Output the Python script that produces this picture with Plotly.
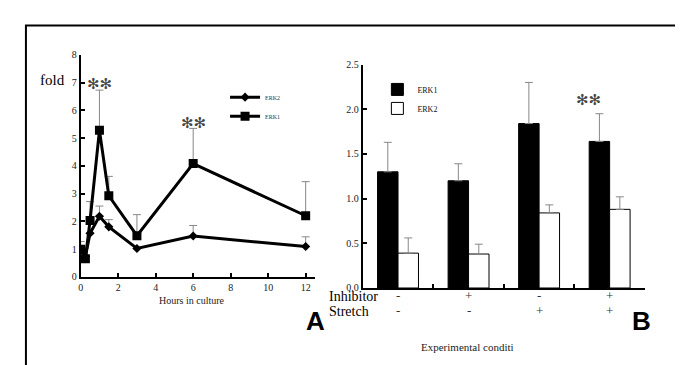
import plotly.graph_objects as go

W, H = 683, 365
def px(x): return x / W
def py(y): return 1 - y / H

# Panel A data
hours = [0, 0.25, 0.5, 1, 1.5, 3, 6, 12]
erk1_a = [0.99, 0.65, 2.03, 5.28, 2.92, 1.48, 4.08, 2.20]
erk1_a_err = [0.0, 0.0, 0.68, 1.45, 0.70, 0.76, 1.27, 1.23]
erk2_a = [1.0, 0.72, 1.57, 2.18, 1.80, 1.02, 1.47, 1.09]
erk2_a_err = [0.27, 0.0, 0.0, 0.37, 0.26, 0.0, 0.38, 0.35]

# Panel B data
conditions = ["c1", "c2", "c3", "c4"]
inhibitor = ["-", "+", "-", "+"]
stretch = ["-", "-", "+", "+"]
erk1_b = [1.30, 1.20, 1.84, 1.64]
erk1_b_err = [0.33, 0.19, 0.46, 0.31]
erk2_b = [0.39, 0.38, 0.84, 0.88]
erk2_b_err = [0.17, 0.11, 0.09, 0.14]

serif = "Liberation Serif, Times New Roman, serif"
ERR = "#888888"

fig = go.Figure()

fig.add_trace(go.Scatter(
    x=hours, y=erk2_a, name="ERK2", mode="lines+markers",
    line=dict(color="black", width=3),
    marker=dict(symbol="diamond", size=7, color="black"),
    error_y=dict(type="data", symmetric=False, array=erk2_a_err,
                 arrayminus=[0] * len(hours), color=ERR, thickness=1, width=4),
    xaxis="x", yaxis="y", legend="legend"))
fig.add_trace(go.Scatter(
    x=hours, y=erk1_a, name="ERK1", mode="lines+markers",
    line=dict(color="black", width=3),
    marker=dict(symbol="square", size=9, color="black"),
    error_y=dict(type="data", symmetric=False, array=erk1_a_err,
                 arrayminus=[0] * len(hours), color=ERR, thickness=1, width=4),
    xaxis="x", yaxis="y", legend="legend"))

fig.add_trace(go.Bar(
    x=conditions, y=erk1_b, name="ERK1",
    marker=dict(color="black", line=dict(color="black", width=1)),
    error_y=dict(type="data", symmetric=False, array=erk1_b_err,
                 arrayminus=[0] * 4, color=ERR, thickness=1, width=4),
    xaxis="x2", yaxis="y2", legend="legend2"))
fig.add_trace(go.Bar(
    x=conditions, y=erk2_b, name="ERK2",
    marker=dict(color="white", line=dict(color="black", width=1)),
    error_y=dict(type="data", symmetric=False, array=erk2_b_err,
                 arrayminus=[0] * 4, color=ERR, thickness=1, width=4),
    xaxis="x2", yaxis="y2", legend="legend2"))

tickfont = dict(family=serif, size=10, color="#222")

fig.update_layout(
    width=W, height=H, margin=dict(l=0, r=0, t=0, b=0),
    paper_bgcolor="white", plot_bgcolor="white",
    barmode="group", bargap=0.42, bargroupgap=0,
    xaxis=dict(domain=[px(70), px(305)], range=[0, 12.48], anchor="y",
               tickvals=[0, 2, 4, 6, 8, 10, 12], ticks="inside", ticklen=4,
               tickwidth=2, tickcolor="black",
               showline=True, linecolor="black", linewidth=2,
               showgrid=False, zeroline=False, tickfont=tickfont),
    yaxis=dict(domain=[py(271.7), py(42.3)], range=[0, 8], dtick=1, anchor="x",
               ticks="inside", ticklen=4, tickwidth=2, tickcolor="black",
               showline=True, linecolor="black", linewidth=2,
               showgrid=False, zeroline=False, tickfont=tickfont),
    xaxis2=dict(domain=[px(353.3), px(636.7)], range=[-0.5, 3.5], anchor="y2",
                type="category", tickson="boundaries", ticks="inside",
                ticklen=4, tickwidth=2, tickcolor="black",
                showticklabels=False,
                showline=True, linecolor="black", linewidth=2,
                showgrid=False, zeroline=False),
    yaxis2=dict(domain=[py(283.3), py(52.3)], range=[0, 2.5], anchor="x2",
                tickvals=[0, 0.5, 1.0, 1.5, 2.0, 2.5],
                ticktext=["0.0", "0.5", "1.0", "1.5", "2.0", "2.5"],
                ticks="inside", ticklen=4, tickwidth=2, tickcolor="black",
                showline=True, linecolor="black", linewidth=2,
                showgrid=False, zeroline=False, tickfont=tickfont),
    legend=dict(x=px(215), y=py(71), xanchor="left", yanchor="top",
                font=dict(family=serif, size=6, color="#333"),
                bgcolor="rgba(0,0,0,0)", tracegroupgap=0, itemwidth=30),
    legend2=dict(x=px(368), y=py(63), xanchor="left", yanchor="top",
                 font=dict(family=serif, size=8, color="#111"),
                 bgcolor="rgba(0,0,0,0)", tracegroupgap=0, itemwidth=30),
)

annots = []
annots.append(dict(x=px(56), y=py(58), xref="paper", yref="paper",
                   xanchor="right", text="fold", showarrow=False,
                   font=dict(family=serif, size=15, color="black")))
annots.append(dict(x=px(147), y=py(304), xref="paper", yref="paper",
                   text="Hours in culture", showarrow=False,
                   font=dict(family=serif, size=10, color="#222")))
annots.append(dict(x=px(306), y=py(335), xref="paper", yref="paper",
                   text="<b>A</b>", showarrow=False,
                   font=dict(family="Liberation Sans", size=26, color="black")))
annots.append(dict(x=px(645), y=py(335), xref="paper", yref="paper",
                   text="<b>B</b>", showarrow=False,
                   font=dict(family="Liberation Sans", size=26, color="black")))
annots.append(dict(x=px(507), y=py(353), xref="paper", yref="paper",
                   text="Experimental conditi", showarrow=False,
                   font=dict(family=serif, size=11, color="#222")))
annots.append(dict(x=px(317), y=py(302), xref="paper", yref="paper",
                   xanchor="left", text="Inhibitor", showarrow=False,
                   font=dict(family=serif, size=14, color="black")))
annots.append(dict(x=px(317), y=py(317), xref="paper", yref="paper",
                   xanchor="left", text="Stretch", showarrow=False,
                   font=dict(family=serif, size=14, color="black")))
for c, i_s, s_s in zip(conditions, inhibitor, stretch):
    annots.append(dict(x=c, y=py(301), xref="x2", yref="paper",
                       text=i_s, showarrow=False,
                       font=dict(family=serif, size=13, color="#333")))
    annots.append(dict(x=c, y=py(316), xref="x2", yref="paper",
                       text=s_s, showarrow=False,
                       font=dict(family=serif, size=13, color="#333")))
star = dict(family="DejaVu Sans", size=15, color="#444")
annots.append(dict(x=1, y=6.95, xref="x", yref="y", text="✻✻",
                   showarrow=False, font=star))
annots.append(dict(x=6, y=5.55, xref="x", yref="y", text="✻✻",
                   showarrow=False, font=star))
annots.append(dict(x=px(595), y=2.10, xref="paper", yref="y2", text="✻✻",
                   showarrow=False, font=star))
fig.update_layout(annotations=annots)

fig.add_shape(type="rect", xref="paper", yref="paper",
              x0=px(15), x1=px(678), y0=py(370), y1=py(12),
              line=dict(color="black", width=2))

fig.write_html("out.html")
